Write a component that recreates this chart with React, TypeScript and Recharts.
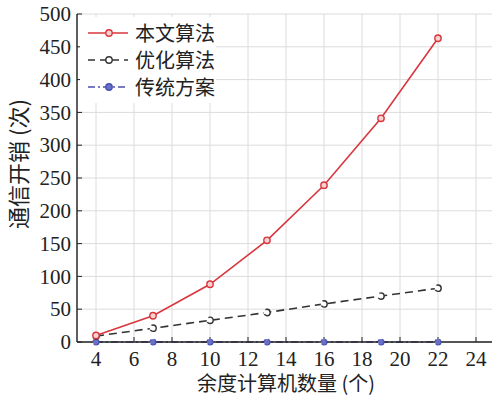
import React from 'react';
import { LineChart, Line, XAxis, YAxis, CartesianGrid, Legend } from 'recharts';

const xValues = [4, 7, 10, 13, 16, 19, 22];
const proposed = [10, 40, 88, 155, 239, 341, 463];
const optimized = [9, 21, 33, 45, 58, 70, 82];
const traditional = [0, 0, 0, 0, 0, 0, 0];
const xTicks = [4, 6, 8, 10, 12, 14, 16, 18, 20, 22, 24];
const yTicks = [0, 50, 100, 150, 200, 250, 300, 350, 400, 450, 500];
const seriesNames = ['本文算法', '优化算法', '传统方案'];
const xLabel = '余度计算机数量 (个)';
const yLabel = '通信开销 (次)';

const RED = '#d9363e';
const BLACK = '#333333';
const BLUE = '#4a50b0';
const AXIS = '#222222';
const SERIF = '"Liberation Serif", "Times New Roman", serif';
const CJK = '"Noto Sans CJK SC", sans-serif';

const data = xValues.map((x, i) => ({
  x,
  a: proposed[i],
  b: optimized[i],
  c: traditional[i],
}));

const legendItems = [
  { name: seriesNames[0], stroke: RED, dash: undefined as string | undefined, fill: '#f6d2d2' },
  { name: seriesNames[1], stroke: BLACK, dash: '7 5', fill: '#ffffff' },
  { name: seriesNames[2], stroke: BLUE, dash: '7 3 2 3', fill: '#6a70c8' },
];

const LegendBox = () => (
  <div style={{ background: '#ffffff', width: 136, padding: '2px 0 3px 0' }}>
    {legendItems.map((it) => (
      <div key={it.name} style={{ display: 'flex', alignItems: 'center', height: 27 }}>
        <svg width={50} height={12} style={{ display: 'block' }}>
          <line x1={8} y1={6} x2={48} y2={6} stroke={it.stroke} strokeWidth={1.6} strokeDasharray={it.dash} />
          <circle cx={29} cy={6} r={3.2} stroke={it.stroke} strokeWidth={1.4} fill={it.fill} />
        </svg>
        <span style={{ fontFamily: CJK, fontSize: 20, marginLeft: 5, color: '#222', lineHeight: '27px' }}>{it.name}</span>
      </div>
    ))}
  </div>
);

const XTick = (props: any) => {
  const { x, y, payload } = props;
  return (
    <text x={x} y={y} dy="0.71em" textAnchor="middle" fill="#222" fontSize={21} fontFamily="Liberation Serif" style={{ fontFamily: SERIF }}>
      {payload.value}
    </text>
  );
};

const YTick = (props: any) => {
  const { x, y, payload } = props;
  return (
    <text x={x} y={y} dy="0.34em" textAnchor="end" fill="#222" fontSize={21} fontFamily="Liberation Serif" style={{ fontFamily: SERIF }}>
      {payload.value}
    </text>
  );
};

export default function App() {
  return (
    <div style={{ position: 'fixed', left: 0, top: 0, width: 492, height: 399, overflow: 'hidden', background: '#fff' }}>
      <LineChart width={500} height={399} data={data} margin={{ top: 14, right: 5, left: 0, bottom: 0 }}>
        <CartesianGrid stroke="#dcdcdc" strokeWidth={1} />
        <XAxis
          dataKey="x"
          type="number"
          domain={[3, 25]}
          ticks={xTicks}
          height={57}
          tickSize={-5}
          tickMargin={14}
          axisLine={{ stroke: AXIS, strokeWidth: 1.4 }}
          tickLine={{ stroke: AXIS }}
          tick={<XTick />}
          label={{ value: xLabel, position: 'insideBottom', offset: 8, fill: '#222', fontSize: 20, style: { fontFamily: CJK } }}
        />
        <XAxis
          xAxisId="top"
          orientation="top"
          type="number"
          domain={[3, 25]}
          ticks={xTicks}
          height={0}
          mirror
          tick={false}
          tickSize={5}
          axisLine={{ stroke: AXIS, strokeWidth: 1.4 }}
          tickLine={{ stroke: AXIS }}
        />
        <YAxis
          type="number"
          domain={[0, 500]}
          ticks={yTicks}
          width={77}
          tickSize={-5}
          tickMargin={11}
          axisLine={{ stroke: AXIS, strokeWidth: 1.4 }}
          tickLine={{ stroke: AXIS }}
          tick={<YTick />}
          label={{ value: yLabel, angle: -90, position: 'center', dx: -19, dy: -14, fill: '#222', fontSize: 22, style: { fontFamily: CJK } }}
        />
        <YAxis
          yAxisId="right"
          orientation="right"
          type="number"
          domain={[0, 500]}
          ticks={yTicks}
          width={0}
          mirror
          tick={false}
          tickSize={5}
          axisLine={{ stroke: AXIS, strokeWidth: 1.4 }}
          tickLine={{ stroke: AXIS }}
        />
        <Legend
          layout="vertical"
          align="center"
          verticalAlign="middle"
          wrapperStyle={{ left: 80, top: 17, width: 136 }}
          content={() => <LegendBox />}
        />
        <Line
          dataKey="c"
          name={seriesNames[2]}
          stroke={BLUE}
          strokeWidth={1.5}
          strokeDasharray="7 3 2 3"
          dot={{ r: 3, stroke: BLUE, strokeWidth: 1.2, fill: '#6a70c8' }}
          isAnimationActive={false}
        />
        <Line
          dataKey="b"
          name={seriesNames[1]}
          stroke={BLACK}
          strokeWidth={1.6}
          strokeDasharray="8 5"
          dot={{ r: 3.2, stroke: BLACK, strokeWidth: 1.4, fill: '#ffffff' }}
          isAnimationActive={false}
        />
        <Line
          dataKey="a"
          name={seriesNames[0]}
          stroke={RED}
          strokeWidth={1.6}
          dot={{ r: 3.2, stroke: RED, strokeWidth: 1.4, fill: '#f6d2d2' }}
          isAnimationActive={false}
        />
      </LineChart>
    </div>
  );
}
